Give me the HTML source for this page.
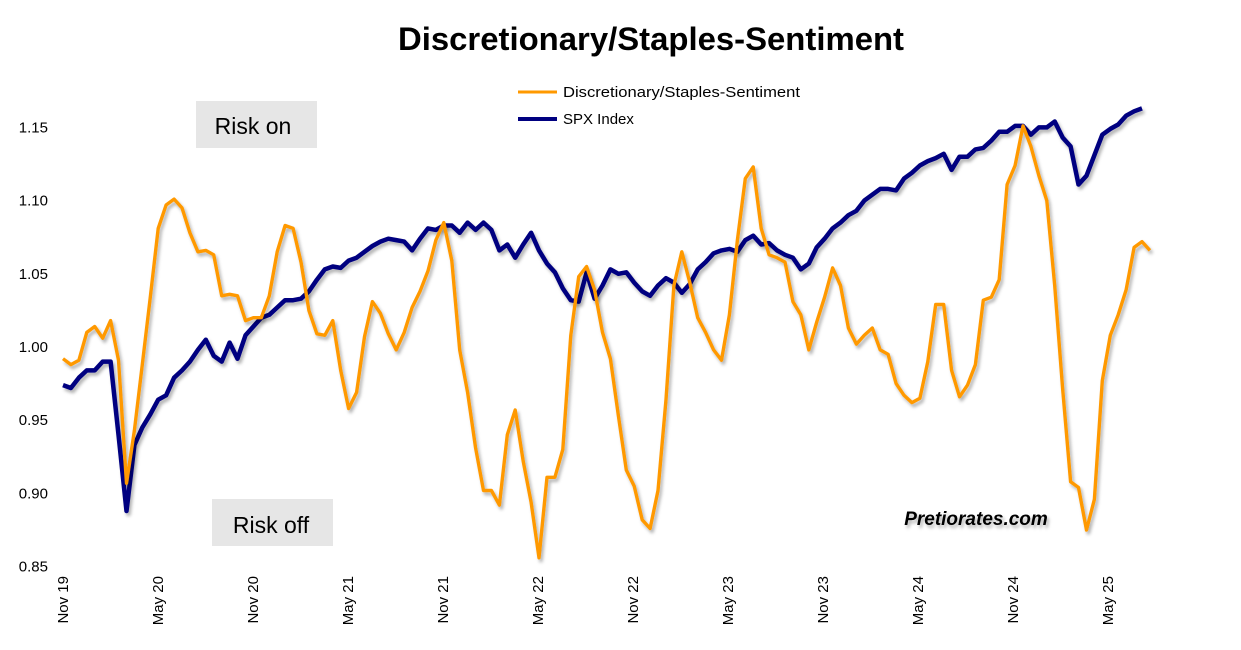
<!DOCTYPE html>
<html><head><meta charset="utf-8"><style>
html,body{margin:0;padding:0;background:#fff;}
svg{display:block;font-family:"Liberation Sans",Arial,sans-serif;}
</style></head><body>
<svg id="chart" width="1241" height="650" viewBox="0 0 1241 650">
<defs><filter id="sh" x="-5%" y="-5%" width="110%" height="110%"><feDropShadow dx="2" dy="3" stdDeviation="1.5" flood-color="#000" flood-opacity="0.3"/></filter></defs>
<text x="651" y="50" text-anchor="middle" font-size="32" font-weight="bold" textLength="506" lengthAdjust="spacingAndGlyphs">Discretionary/Staples-Sentiment</text>
<g id="yaxis"></g>
<g id="xaxis"></g>
<rect x="196" y="101" width="121" height="47" fill="#e6e6e6"/>
<text x="253" y="134" text-anchor="middle" font-size="23">Risk on</text>
<rect x="212" y="499" width="121" height="47" fill="#e6e6e6"/>
<text x="271" y="533" text-anchor="middle" font-size="23">Risk off</text>
<g id="series"></g>
<text x="976" y="525" text-anchor="middle" font-size="19" font-weight="bold" font-style="italic" filter="url(#sh)">Pretiorates.com</text>
<g>
<line x1="518" y1="92" x2="557" y2="92" stroke="#ff9900" stroke-width="3"/>
<text x="563" y="97" font-size="15" textLength="237" lengthAdjust="spacingAndGlyphs">Discretionary/Staples-Sentiment</text>
<line x1="518" y1="119" x2="557" y2="119" stroke="#000080" stroke-width="4"/>
<text x="563" y="124" font-size="15">SPX Index</text>
</g>
</svg>
<script>
const yTicks=[0.85,0.90,0.95,1.00,1.05,1.10,1.15];
const xTickLabels=["Nov 19","May 20","Nov 20","May 21","Nov 21","May 22","Nov 22","May 23","Nov 23","May 24","Nov 24","May 25"];
const xTickMonths=[0,6,12,18,24,30,36,42,48,54,60,66];
const sentiment=[0.992,0.988,0.991,1.010,1.014,1.006,1.018,0.991,0.907,0.943,0.988,1.034,1.081,1.097,1.101,1.095,1.078,1.065,1.066,1.063,1.035,1.036,1.035,1.018,1.020,1.020,1.035,1.065,1.083,1.081,1.058,1.025,1.009,1.008,1.018,0.984,0.958,0.969,1.007,1.031,1.023,1.009,0.998,1.010,1.027,1.038,1.052,1.073,1.085,1.059,0.998,0.969,0.931,0.902,0.902,0.892,0.940,0.957,0.922,0.894,0.856,0.911,0.911,0.930,1.008,1.048,1.055,1.039,1.010,0.992,0.953,0.916,0.905,0.882,0.876,0.902,0.964,1.042,1.065,1.044,1.020,1.010,0.998,0.991,1.022,1.073,1.115,1.123,1.081,1.063,1.061,1.058,1.031,1.022,0.998,1.017,1.034,1.054,1.042,1.013,1.002,1.008,1.013,0.998,0.995,0.975,0.967,0.962,0.965,0.990,1.029,1.029,0.984,0.966,0.974,0.988,1.032,1.034,1.046,1.111,1.124,1.151,1.137,1.117,1.100,1.042,0.971,0.908,0.904,0.875,0.896,0.977,1.008,1.022,1.039,1.068,1.072,1.066];
const spx=[0.974,0.972,0.979,0.984,0.984,0.990,0.990,0.940,0.888,0.933,0.945,0.954,0.964,0.967,0.979,0.984,0.990,0.998,1.005,0.994,0.990,1.003,0.992,1.008,1.014,1.020,1.022,1.027,1.032,1.032,1.033,1.038,1.046,1.053,1.055,1.054,1.059,1.061,1.065,1.069,1.072,1.074,1.073,1.072,1.066,1.074,1.081,1.080,1.083,1.083,1.078,1.085,1.080,1.085,1.080,1.066,1.070,1.061,1.070,1.078,1.066,1.057,1.051,1.040,1.032,1.031,1.051,1.033,1.042,1.053,1.050,1.051,1.044,1.038,1.035,1.042,1.047,1.044,1.037,1.043,1.053,1.058,1.064,1.066,1.067,1.065,1.073,1.076,1.070,1.071,1.066,1.063,1.061,1.053,1.057,1.068,1.074,1.081,1.085,1.090,1.093,1.100,1.104,1.108,1.108,1.107,1.115,1.119,1.124,1.127,1.129,1.132,1.121,1.130,1.130,1.135,1.136,1.141,1.147,1.147,1.151,1.151,1.145,1.150,1.150,1.154,1.143,1.137,1.111,1.117,1.131,1.145,1.149,1.152,1.158,1.161,1.163];
const NS="http://www.w3.org/2000/svg";
function yScale(v){return 347-(v-1)*1464;}
function xMonth(m){return 63+m*15.83;}
function xIdx(i){return 63+i*(1079/136);}
const yg=document.getElementById('yaxis');
yTicks.forEach(t=>{
  const tx=document.createElementNS(NS,'text');
  
  
  tx.setAttribute('x',48);tx.setAttribute('y',yScale(t)+5);
  tx.setAttribute('text-anchor','end');tx.setAttribute('font-size','15');
  tx.textContent=t.toFixed(2);yg.appendChild(tx);
});
const xg=document.getElementById('xaxis');
xTickLabels.forEach((l,i)=>{
  const x=xMonth(xTickMonths[i]);
  const tx=document.createElementNS(NS,'text');
  
  
  tx.setAttribute('transform','translate('+(x+5)+',576) rotate(-90)');
  tx.setAttribute('text-anchor','end');tx.setAttribute('font-size','15');
  tx.textContent=l;xg.appendChild(tx);
});
function line(data,color,w,name){
  const p=document.createElementNS(NS,'path');
  
  
  p.setAttribute('d',data.map((v,i)=>(i?'L':'M')+xIdx(i).toFixed(1)+','+yScale(v).toFixed(1)).join(''));
  p.setAttribute('fill','none');p.setAttribute('stroke',color);p.setAttribute('stroke-width',w);
  p.setAttribute('stroke-linejoin','round');p.setAttribute('filter','url(#sh)');
  document.getElementById('series').appendChild(p);
}
line(spx,'#000080',4.5,'spx-line');
line(sentiment,'#ff9900',3.4,'sentiment-line');
</script>
</body></html>
